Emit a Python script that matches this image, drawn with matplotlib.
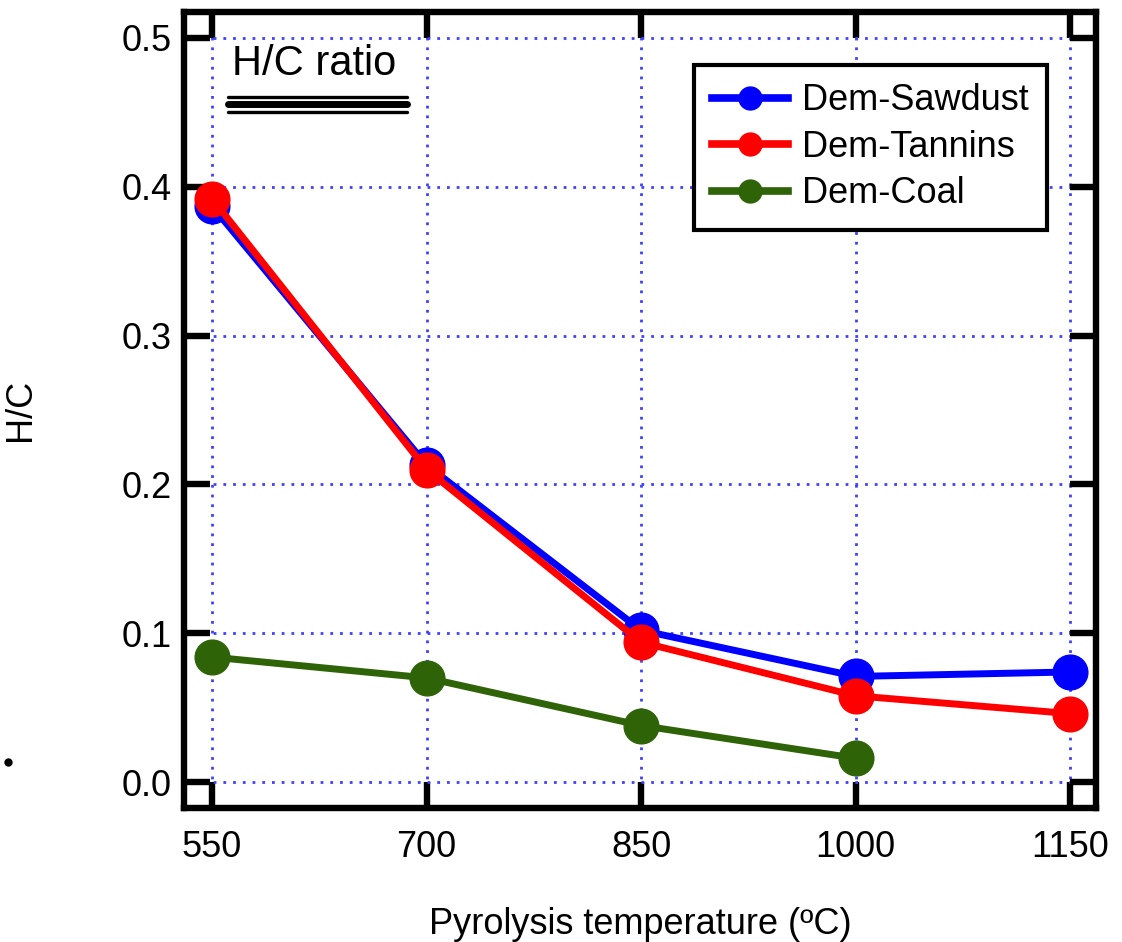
import matplotlib
matplotlib.use('Agg')
import matplotlib.pyplot as plt
from matplotlib.lines import Line2D

plt.rcParams['font.family'] = ['Liberation Sans', 'DejaVu Sans']

# data
temps = [550, 700, 850, 1000, 1150]
sawdust = [0.387, 0.213, 0.102, 0.071, 0.074]
tannins = [0.392, 0.210, 0.094, 0.058, 0.046]
coal_t = [550, 700, 850, 1000]
coal = [0.084, 0.070, 0.038, 0.016]

xticks = [550, 700, 850, 1000, 1150]
yticks = [0.0, 0.1, 0.2, 0.3, 0.4, 0.5]

fig = plt.figure(figsize=(11.22, 9.42), dpi=100)
ax = fig.add_axes([184 / 1122, 1 - 808 / 942, (1096 - 184) / 1122, (808 - 12) / 942])

lw = 5
ms = 25
ax.plot(temps, sawdust, '-o', color='#0000ff', lw=lw, ms=ms, label='Dem-Sawdust', zorder=3)
ax.plot(temps, tannins, '-o', color='#ff0000', lw=lw, ms=ms, label='Dem-Tannins', zorder=4)
ax.plot(coal_t, coal, '-o', color='#2e6407', lw=lw, ms=ms, label='Dem-Coal', zorder=3)

ax.set_xlim(530.4, 1168)
ax.set_ylim(-0.0174, 0.5174)
ax.set_xticks(xticks)
ax.set_yticks(yticks)
ax.set_yticklabels(['%.1f' % v for v in yticks])
ax.grid(True, color='#4040ff', linestyle=(0, (1, 2.5)), linewidth=2)
ax.set_axisbelow(True)

for s in ax.spines.values():
    s.set_linewidth(4.6)
ax.tick_params(direction='in', length=19, width=4.6, top=True, right=True,
               labelsize=26)
ax.tick_params(axis='x', pad=16)
ax.tick_params(axis='y', pad=9)

ax.set_xlabel('Pyrolysis temperature (ºC)', fontsize=26, labelpad=30)
ax.set_ylabel('H/C', fontsize=26, labelpad=60)

ax.text(0.053, 0.96, 'H/C ratio', transform=ax.transAxes, fontsize=30,
        va='top', ha='left')
for yy, w in [(0.893, 2.4), (0.884, 5), (0.874, 2.4)]:
    ax.plot([0.048, 0.245], [yy, yy], transform=ax.transAxes, color='black',
            lw=w, solid_capstyle='round', zorder=5)

leg = ax.legend(loc='upper right', bbox_to_anchor=(0.946, 0.933), fontsize=26,
                frameon=True, fancybox=False, handlelength=2.1,
                borderpad=0.5, labelspacing=0.32, handletextpad=0.4,
                markerscale=0.66, borderaxespad=0)
leg.get_frame().set_edgecolor('black')
leg.get_frame().set_linewidth(3)
leg.get_frame().set_alpha(1)
for h in leg.get_lines():
    h.set_linewidth(5.5)

fig.add_artist(Line2D([8 / 1122], [1 - 762 / 942], marker='o', ms=5,
                      color='black', transform=fig.transFigure))

fig.savefig('out.png', dpi=100)
